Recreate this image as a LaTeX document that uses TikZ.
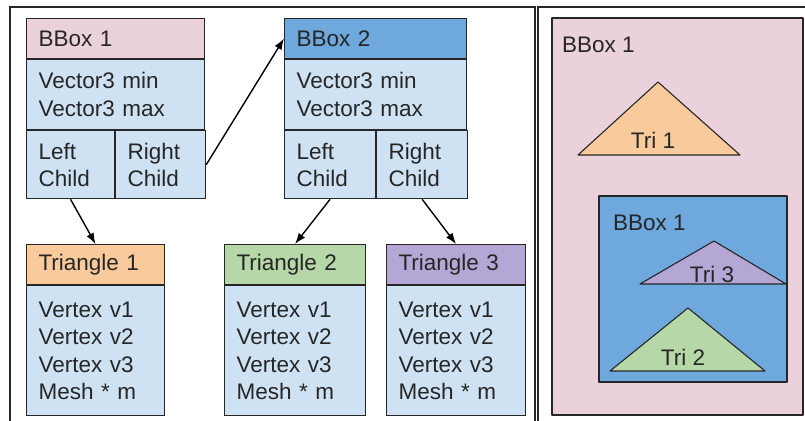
\documentclass[tikz,border=0pt]{standalone}
\usepackage{fontspec}
\setmainfont{Liberation Sans}
\usetikzlibrary{positioning, arrows.meta, calc}
\definecolor{boxpink}{HTML}{EAD1DC}
\definecolor{boxblue}{HTML}{6FA8DC}
\definecolor{cellblue}{HTML}{CFE2F3}
\definecolor{triorange}{HTML}{F9CB9C}
\definecolor{trigreen}{HTML}{B6D7A8}
\definecolor{tripurple}{HTML}{B4A7D6}
\definecolor{inkgray}{HTML}{262626}

\begin{document}
\begin{tikzpicture}[x=1pt, y=-1pt,
		every node/.style={font=\fontsize{22.5}{27.5}\selectfont, text=inkgray},
		rec/.style={draw=inkgray, line width=1.1pt, anchor=north west, inner xsep=12pt, inner ysep=0pt, align=left},
		link/.style={draw=black, line width=1.4pt, -{Latex[length=11pt, width=8pt]}},
		frame/.style={draw=inkgray, line width=1.5pt},
		outline/.style={draw=inkgray, line width=1.1pt, line join=round},
		lbl/.style={inner sep=0pt}]
		\useasboundingbox (0,0) rectangle (805,420);
		% panels
		\draw[frame] (10,430) -- (10,7) -- (535,7) -- (535,430);
		\draw[frame] (538,430) -- (538,7) -- (815,7);
		% the tree, left panel
		\coordinate (B1) at (26, 18);
		\coordinate (B2) at (284, 18);
		\coordinate (T1) at (26, 244);
		\coordinate (T2) at (224, 244);
		\coordinate (T3) at (386, 244);
		\node[rec, fill=boxpink, text width=154pt, minimum height=40pt] (bb1head) at (B1) {BBox 1};
		\node[rec, fill=cellblue, text width=154pt, minimum height=70pt] (bb1vec) at (bb1head.south west) {Vector3 min\\Vector3 max};
		\node[rec, fill=cellblue, text width=64pt, minimum height=68pt] (bb1left) at (bb1vec.south west) {Left\\Child};
		\node[rec, fill=cellblue, text width=66pt, minimum height=68pt] (bb1right) at (bb1left.north east) {Right\\Child};
		\node[rec, fill=boxblue, text width=158pt, minimum height=40pt] (bb2head) at (B2) {BBox 2};
		\node[rec, fill=cellblue, text width=158pt, minimum height=70pt] (bb2vec) at (bb2head.south west) {Vector3 min\\Vector3 max};
		\node[rec, fill=cellblue, text width=67pt, minimum height=68pt] (bb2left) at (bb2vec.south west) {Left\\Child};
		\node[rec, fill=cellblue, text width=67pt, minimum height=68pt] (bb2right) at (bb2left.north east) {Right\\Child};
		\node[rec, fill=triorange, text width=114pt, minimum height=40pt] (tri1head) at (T1) {Triangle 1};
		\node[rec, fill=cellblue, text width=114pt, minimum height=130pt] (tri1data) at (tri1head.south west) {Vertex v1\\Vertex v2\\Vertex v3\\Mesh * m};
		\node[rec, fill=trigreen, text width=117pt, minimum height=40pt] (tri2head) at (T2) {Triangle 2};
		\node[rec, fill=cellblue, text width=117pt, minimum height=130pt] (tri2data) at (tri2head.south west) {Vertex v1\\Vertex v2\\Vertex v3\\Mesh * m};
		\node[rec, fill=tripurple, text width=115pt, minimum height=40pt] (tri3head) at (T3) {Triangle 3};
		\node[rec, fill=cellblue, text width=115pt, minimum height=130pt] (tri3data) at (tri3head.south west) {Vertex v1\\Vertex v2\\Vertex v3\\Mesh * m};
		\draw[link] (bb1right.east) -- (bb2head.west);
		\draw[link] (bb1left.south) -- (tri1head.north);
		\draw[link] (bb2left.south) -- (tri2head.north);
		\draw[link] (bb2right.south) -- (tri3head.north);
		% the same boxes in space, right panel
		\filldraw[outline, fill=boxpink] (552,18) rectangle (803,415);
		\node[lbl, anchor=west] (outerbox) at (562,45) {BBox 1};
		\filldraw[outline, fill=triorange] (658,82) -- (578,155) -- (740,155) -- cycle;
		\node[lbl] (tri1lbl) at (653,140) {Tri 1};
		\filldraw[outline, fill=boxblue] (599,196) rectangle (787,382);
		\node[lbl, anchor=west] (innerbox) at (613,223) {BBox 1};
		\filldraw[outline, fill=tripurple] (714,241) -- (640,284) -- (786,284) -- cycle;
		\node[lbl] (tri3lbl) at (712,274) {Tri 3};
		\filldraw[outline, fill=trigreen] (688,308) -- (610,371) -- (765,371) -- cycle;
		\node[lbl] (tri2lbl) at (683,357) {Tri 2};
	\end{tikzpicture}
\end{document}
